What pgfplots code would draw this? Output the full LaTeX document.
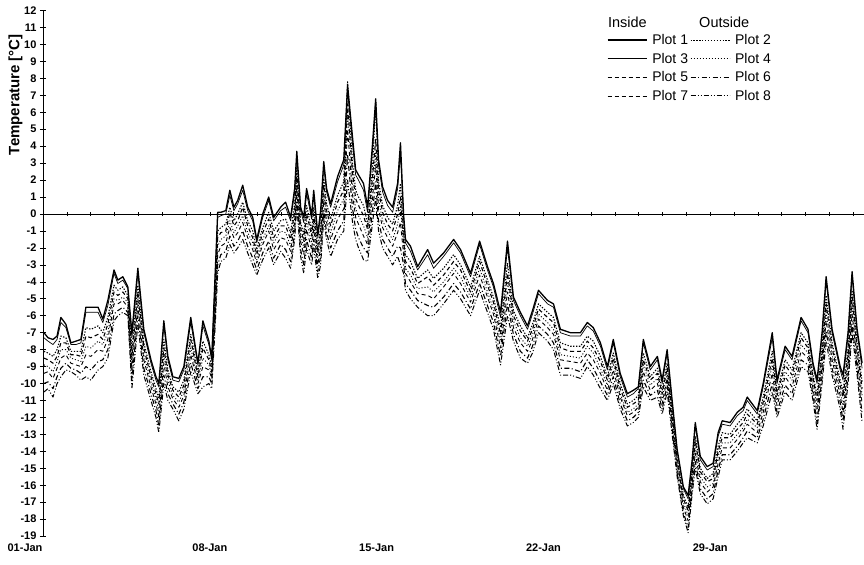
\documentclass[border=0pt]{standalone}
\usepackage{pgfplots}
\pgfplotsset{compat=1.18}
\usepackage{pgfplotstable}
\usepackage{fontspec}
\setmainfont{Liberation Sans}

% Hourly temperatures, January: d = days since 01-Jan 00:00
\pgfplotstableread{
d p1 p3 p2 p5 p4 p7 p6 p8
0.04 -7.0 -7.3 -8.1 -8.5 -8.9 -9.4 -10.0 -10.5
0.21 -7.3 -7.5 -8.2 -8.6 -9.0 -9.3 -9.9 -10.3
0.42 -7.4 -7.7 -8.4 -8.8 -9.3 -9.7 -10.3 -10.8
0.59 -7.2 -7.4 -8.0 -8.4 -8.7 -9.1 -9.6 -10.0
0.75 -6.1 -6.4 -7.2 -7.6 -8.0 -8.5 -9.1 -9.6
0.96 -6.5 -6.7 -7.3 -7.6 -8.0 -8.3 -8.8 -9.2
1.17 -7.6 -7.7 -8.1 -8.3 -8.5 -8.8 -9.1 -9.3
1.38 -7.5 -7.7 -8.1 -8.3 -8.6 -8.9 -9.2 -9.5
1.59 -7.4 -7.6 -8.1 -8.4 -8.7 -9.0 -9.4 -9.8
1.80 -5.5 -5.8 -6.7 -7.2 -7.8 -8.3 -9.0 -9.6
2.01 -5.5 -5.8 -6.8 -7.3 -7.9 -8.4 -9.2 -9.8
2.31 -5.5 -5.8 -6.6 -7.1 -7.5 -8.0 -8.7 -9.2
2.51 -6.2 -6.4 -7.0 -7.4 -7.7 -8.1 -8.6 -9.0
2.72 -5.1 -5.4 -6.1 -6.5 -7.0 -7.4 -8.0 -8.5
2.98 -3.3 -3.5 -4.2 -4.6 -5.0 -5.3 -5.9 -6.3
3.14 -3.9 -4.1 -4.5 -4.8 -5.1 -5.3 -5.7 -6.0
3.35 -3.7 -3.9 -4.3 -4.6 -4.9 -5.1 -5.5 -5.8
3.56 -4.3 -4.4 -4.8 -5.0 -5.2 -5.5 -5.8 -6.0
3.73 -7.0 -7.3 -8.0 -8.4 -8.8 -9.2 -9.8 -10.3
3.98 -3.2 -3.5 -4.2 -4.6 -5.0 -5.4 -6.0 -6.5
4.23 -6.8 -7.0 -7.6 -7.9 -8.3 -8.6 -9.1 -9.5
4.53 -8.6 -8.8 -9.3 -9.6 -9.9 -10.2 -10.6 -11.0
4.74 -9.6 -9.8 -10.3 -10.6 -10.9 -11.2 -11.6 -12.0
4.86 -10.0 -10.2 -10.9 -11.2 -11.6 -12.0 -12.5 -12.9
5.07 -6.3 -6.6 -7.4 -7.9 -8.3 -8.8 -9.5 -10.0
5.24 -8.4 -8.6 -9.2 -9.5 -9.8 -10.2 -10.6 -11.0
5.45 -9.6 -9.8 -10.2 -10.4 -10.7 -10.9 -11.2 -11.5
5.70 -9.7 -9.9 -10.5 -10.8 -11.1 -11.4 -11.8 -12.2
5.91 -9.0 -9.2 -9.8 -10.1 -10.4 -10.7 -11.1 -11.5
6.20 -6.1 -6.4 -7.1 -7.4 -7.9 -8.3 -8.8 -9.3
6.50 -8.8 -8.9 -9.3 -9.6 -9.8 -10.0 -10.3 -10.6
6.71 -6.3 -6.6 -7.5 -7.9 -8.5 -9.0 -9.6 -10.2
6.96 -7.5 -7.7 -8.3 -8.6 -8.9 -9.2 -9.6 -10.0
7.08 -8.5 -8.6 -9.0 -9.3 -9.5 -9.7 -10.0 -10.3
7.21 -4.0 -4.2 -4.9 -5.3 -5.7 -6.0 -6.6 -7.0
7.33 0.1 -0.2 -1.0 -1.4 -1.9 -2.4 -3.0 -3.5
7.46 0.1 -0.1 -0.8 -1.1 -1.5 -1.9 -2.4 -2.8
7.67 0.2 0.0 -0.6 -1.0 -1.3 -1.7 -2.2 -2.6
7.84 1.4 1.1 0.4 0.1 -0.4 -0.8 -1.3 -1.8
8.01 0.4 0.2 -0.4 -0.7 -1.1 -1.4 -1.9 -2.3
8.17 0.8 0.6 0.0 -0.4 -0.7 -1.1 -1.6 -2.0
8.38 1.7 1.4 0.7 0.4 -0.1 -0.5 -1.0 -1.5
8.59 0.4 0.2 -0.4 -0.7 -1.1 -1.4 -1.9 -2.3
8.80 -0.2 -0.4 -1.0 -1.4 -1.7 -2.1 -2.6 -3.0
8.97 -1.5 -1.7 -2.1 -2.4 -2.7 -2.9 -3.3 -3.6
9.22 0.0 -0.2 -0.8 -1.1 -1.5 -1.8 -2.3 -2.7
9.47 1.0 0.8 0.1 -0.3 -0.7 -1.0 -1.6 -2.0
9.68 -0.2 -0.4 -1.0 -1.4 -1.7 -2.1 -2.6 -3.0
9.97 0.4 0.2 -0.4 -0.7 -1.0 -1.4 -1.8 -2.2
10.18 0.7 0.4 -0.3 -0.7 -1.1 -1.5 -2.1 -2.6
10.39 -0.2 -0.4 -1.1 -1.5 -1.9 -2.2 -2.8 -3.2
10.56 1.5 1.3 0.6 0.2 -0.2 -0.5 -1.1 -1.5
10.65 3.7 3.4 2.7 2.4 1.9 1.5 1.0 0.5
10.81 0.4 0.2 -0.5 -0.8 -1.2 -1.6 -2.1 -2.5
10.94 -0.2 -0.5 -1.2 -1.6 -2.0 -2.4 -3.0 -3.5
11.06 1.5 1.2 0.5 0.0 -0.4 -0.9 -1.5 -2.0
11.15 0.9 0.6 -0.1 -0.5 -1.0 -1.4 -2.0 -2.5
11.27 -0.1 -0.3 -1.0 -1.3 -1.7 -2.1 -2.6 -3.0
11.36 1.4 1.1 0.4 0.0 -0.5 -0.9 -1.5 -2.0
11.53 -1.2 -1.4 -2.0 -2.3 -2.6 -3.0 -3.4 -3.8
11.65 0.2 -0.1 -0.8 -1.1 -1.6 -2.0 -2.5 -3.0
11.78 3.1 2.8 2.1 1.7 1.2 0.8 0.2 -0.3
11.90 1.5 1.3 0.6 0.2 -0.2 -0.5 -1.1 -1.5
12.07 0.6 0.4 -0.3 -0.7 -1.1 -1.5 -2.0 -2.5
12.36 2.2 1.9 1.1 0.7 0.2 -0.3 -1.0 -1.5
12.62 3.2 2.9 1.9 1.4 0.9 0.3 -0.4 -1.0
12.78 7.6 7.3 7.8 6.5 6.0 5.0 3.5 2.0
12.99 4.5 4.1 3.0 2.4 1.8 1.1 0.3 -0.5
13.12 2.6 2.3 1.4 0.9 0.3 -0.2 -0.9 -1.5
13.24 2.3 2.0 1.0 0.5 -0.1 -0.6 -1.4 -2.0
13.45 1.8 1.4 0.5 -0.1 -0.7 -1.3 -2.0 -2.7
13.62 0.4 0.1 -0.6 -0.9 -1.4 -1.8 -2.3 -2.8
13.83 4.2 3.8 2.8 2.2 1.6 1.0 0.2 -0.5
13.96 6.8 6.3 6.6 4.4 3.6 2.9 1.9 1.0
14.08 3.2 2.9 1.9 1.4 0.9 0.3 -0.4 -1.0
14.25 1.6 1.3 0.5 0.1 -0.4 -0.8 -1.5 -2.0
14.46 0.8 0.5 -0.2 -0.6 -1.0 -1.4 -2.0 -2.5
14.67 0.4 0.1 -0.6 -1.0 -1.5 -1.9 -2.5 -3.0
14.88 1.8 1.5 0.5 0.0 -0.6 -1.1 -1.9 -2.5
15.00 4.2 3.5 1.8 1.0 0.5 -0.5 -2.0 -3.0
15.13 0.0 -0.3 -1.1 -1.5 -1.9 -2.4 -3.0 -3.5
15.21 -1.5 -1.7 -2.4 -2.8 -3.2 -3.5 -4.1 -4.5
15.42 -1.9 -2.2 -2.8 -3.2 -3.6 -4.0 -4.5 -5.0
15.72 -3.1 -3.3 -3.8 -4.1 -4.4 -4.7 -5.1 -5.5
16.14 -2.1 -2.4 -3.3 -3.7 -4.3 -4.8 -5.4 -6.0
16.39 -2.9 -3.2 -3.8 -4.2 -4.6 -5.0 -5.5 -6.0
16.81 -2.3 -2.5 -3.2 -3.6 -4.0 -4.3 -4.9 -5.3
17.23 -1.5 -1.7 -2.4 -2.8 -3.2 -3.5 -4.1 -4.5
17.52 -2.1 -2.3 -3.0 -3.3 -3.7 -4.1 -4.6 -5.0
17.94 -3.5 -3.7 -4.3 -4.6 -4.9 -5.2 -5.6 -6.0
18.32 -1.6 -1.8 -2.5 -2.8 -3.2 -3.6 -4.1 -4.5
18.65 -3.1 -3.3 -3.9 -4.2 -4.6 -4.9 -5.4 -5.8
18.90 -4.1 -4.3 -4.9 -5.2 -5.6 -5.9 -6.4 -6.8
19.20 -5.8 -6.1 -6.7 -7.1 -7.5 -7.9 -8.4 -8.9
19.49 -1.6 -2.0 -2.9 -3.5 -4.0 -4.6 -5.3 -6.0
19.74 -4.9 -5.1 -5.7 -6.0 -6.3 -6.7 -7.1 -7.5
20.03 -5.8 -6.0 -6.6 -6.9 -7.3 -7.6 -8.1 -8.5
20.33 -6.6 -6.8 -7.3 -7.5 -7.8 -8.1 -8.5 -8.8
20.54 -5.7 -5.9 -6.5 -6.8 -7.1 -7.4 -7.8 -8.2
20.79 -4.5 -4.7 -5.3 -5.6 -5.9 -6.2 -6.6 -7.0
21.17 -5.1 -5.3 -5.8 -6.1 -6.4 -6.7 -7.1 -7.5
21.42 -5.3 -5.5 -6.1 -6.4 -6.8 -7.1 -7.6 -8.0
21.71 -6.8 -7.0 -7.6 -7.9 -8.3 -8.6 -9.1 -9.5
22.13 -7.0 -7.2 -7.8 -8.1 -8.4 -8.7 -9.1 -9.5
22.55 -7.0 -7.2 -7.8 -8.1 -8.5 -8.8 -9.3 -9.7
22.84 -6.4 -6.6 -7.2 -7.5 -7.8 -8.2 -8.6 -9.0
23.09 -6.7 -6.9 -7.5 -7.9 -8.2 -8.6 -9.1 -9.5
23.39 -7.6 -7.8 -8.4 -8.7 -9.1 -9.4 -9.9 -10.3
23.68 -9.0 -9.2 -9.6 -9.8 -10.1 -10.4 -10.7 -11.0
23.93 -7.4 -7.6 -8.2 -8.5 -8.8 -9.2 -9.6 -10.0
24.22 -9.4 -9.6 -10.0 -10.3 -10.6 -10.8 -11.2 -11.5
24.52 -10.6 -10.8 -11.2 -11.4 -11.7 -11.9 -12.2 -12.5
24.77 -10.4 -10.6 -11.0 -11.2 -11.5 -11.7 -12.0 -12.3
24.98 -10.2 -10.3 -10.7 -11.0 -11.2 -11.4 -11.7 -12.0
25.19 -7.4 -7.6 -8.2 -8.6 -8.9 -9.3 -9.8 -10.2
25.48 -9.0 -9.2 -9.6 -9.8 -10.1 -10.4 -10.7 -11.0
25.78 -8.4 -8.6 -9.1 -9.4 -9.7 -10.0 -10.4 -10.8
25.98 -9.8 -10.0 -10.4 -10.6 -10.9 -11.2 -11.5 -11.8
26.19 -8.0 -8.2 -8.8 -9.1 -9.4 -9.7 -10.1 -10.5
26.40 -11.0 -11.2 -11.6 -11.8 -12.1 -12.4 -12.7 -13.0
26.61 -13.9 -14.0 -14.4 -14.6 -14.8 -15.0 -15.3 -15.5
26.87 -16.1 -16.2 -16.6 -16.8 -17.0 -17.3 -17.6 -17.8
27.07 -16.6 -16.8 -17.3 -17.5 -17.8 -18.1 -18.5 -18.8
27.24 -14.5 -14.7 -15.1 -15.3 -15.6 -15.9 -16.2 -16.5
27.37 -12.3 -12.5 -13.1 -13.4 -13.8 -14.1 -14.6 -15.0
27.58 -14.3 -14.5 -15.0 -15.2 -15.5 -15.8 -16.2 -16.5
27.87 -14.9 -15.1 -15.6 -15.8 -16.1 -16.4 -16.8 -17.1
28.12 -14.7 -14.9 -15.3 -15.6 -15.9 -16.1 -16.5 -16.8
28.33 -12.9 -13.1 -13.7 -14.0 -14.3 -14.7 -15.1 -15.5
28.50 -12.2 -12.4 -12.9 -13.2 -13.5 -13.8 -14.2 -14.5
28.83 -12.3 -12.5 -13.0 -13.2 -13.5 -13.8 -14.2 -14.5
29.13 -11.7 -11.9 -12.4 -12.7 -13.0 -13.3 -13.7 -14.0
29.38 -11.4 -11.6 -12.0 -12.3 -12.6 -12.8 -13.2 -13.5
29.55 -10.8 -11.0 -11.5 -11.8 -12.1 -12.4 -12.8 -13.2
29.97 -11.6 -11.8 -12.2 -12.4 -12.6 -12.9 -13.2 -13.5
30.22 -10.0 -10.2 -10.8 -11.1 -11.4 -11.7 -12.1 -12.5
30.60 -7.0 -7.3 -8.1 -8.5 -8.9 -9.4 -10.0 -10.5
30.80 -9.8 -10.0 -10.5 -10.7 -11.0 -11.3 -11.7 -12.0
31.14 -7.8 -8.0 -8.6 -8.9 -9.3 -9.6 -10.1 -10.5
31.43 -8.4 -8.6 -9.2 -9.5 -9.8 -10.2 -10.6 -11.0
31.81 -6.1 -6.3 -7.0 -7.3 -7.7 -8.1 -8.6 -9.0
32.10 -6.8 -7.0 -7.6 -7.9 -8.2 -8.5 -8.9 -9.3
32.31 -8.8 -9.0 -9.5 -9.7 -10.0 -10.3 -10.7 -11.0
32.48 -9.8 -10.0 -10.7 -11.0 -11.4 -11.8 -12.3 -12.7
32.69 -7.0 -7.2 -7.9 -8.3 -8.7 -9.0 -9.6 -10.0
32.86 -3.7 -4.0 -4.8 -5.3 -5.8 -6.3 -6.9 -7.5
33.11 -6.8 -7.0 -7.6 -7.9 -8.3 -8.6 -9.1 -9.5
33.45 -9.0 -9.2 -9.8 -10.1 -10.4 -10.7 -11.1 -11.5
33.57 -9.5 -9.8 -10.5 -10.8 -11.3 -11.7 -12.2 -12.7
33.78 -7.0 -7.2 -7.9 -8.3 -8.7 -9.0 -9.6 -10.0
33.95 -3.4 -3.7 -4.5 -4.9 -5.4 -5.9 -6.5 -7.0
34.16 -6.8 -7.0 -7.6 -7.9 -8.3 -8.6 -9.1 -9.5
34.37 -8.8 -9.1 -9.9 -10.3 -10.7 -11.2 -11.8 -12.3
}\temps

\begin{document}
\begin{tikzpicture}
% zero line with a tick for every day
\begin{axis}[
  scale only axis, width=821pt, height=525.5pt,
  xmin=0, xmax=34.45, ymin=-19, ymax=12,
  axis x line=middle, axis y line=none,
  x axis line style={-, black, line width=0.8pt},
  every inner x axis line/.append style={-},
  xtick={1,2,...,34}, xticklabels={},
  tick align=center, major tick length=4pt,
  x tick style={black, line width=0.6pt},
  ytick=\empty,
]
\end{axis}
\begin{axis}[
  scale only axis, width=821pt, height=525.5pt,
  xmin=0, xmax=34.45, ymin=-19, ymax=12,
  axis lines=left, axis line style={-, black, line width=0.8pt},
  x axis line style={draw=none},
  xtick={7,14,21,28}, xticklabels={08-Jan,15-Jan,22-Jan,29-Jan},
  extra x ticks={0}, extra x tick labels={01-Jan},
  extra x tick style={xticklabel style={anchor=north east, xshift=3pt}, tick style={draw=none}},
  x tick style={draw=none},
  ytick={-19,-18,...,12},
  tick align=center, major tick length=6pt,
  y tick style={black, line width=0.6pt},
  tick label style={font=\bfseries\fontsize{11}{13}\selectfont},
  xticklabel style={yshift=-1pt},
  /pgf/number format/assume math mode=true,
  ylabel={Temperature [°C]},
  every axis y label/.style={at={(rel axis cs:-0.0335,0.84)}, rotate=90, anchor=center,
    font=\bfseries\fontsize{15}{17}\selectfont},
  legend columns=2,
  legend cell align=left,
  legend style={draw=none, fill=none, at={(0.683,0.963)}, anchor=north west,
    font=\fontsize{14}{16}\selectfont, row sep=3pt,
    /tikz/every odd column/.append style={column sep=3pt}},
  legend image code/.code={\draw[#1] (0pt,0pt) -- (39pt,0pt);},
  every axis plot/.append style={black, line join=round},
]
\addplot[line width=1.3pt] table[x=d, y=p1] {\temps};
\addlegendentry{Plot 1}
\addplot[line width=1.1pt, dash pattern=on 1.3pt off 1.6pt] table[x=d, y=p2] {\temps};
\addlegendentry{Plot 2}
\addplot[line width=0.7pt] table[x=d, y=p3] {\temps};
\addlegendentry{Plot 3}
\addplot[line width=0.9pt, dash pattern=on 1pt off 2pt] table[x=d, y=p4] {\temps};
\addlegendentry{Plot 4}
\addplot[line width=1.1pt, dash pattern=on 4pt off 3pt] table[x=d, y=p5] {\temps};
\addlegendentry{Plot 5}
\addplot[line width=1.1pt, dash pattern=on 5pt off 2.5pt on 1pt off 2.5pt] table[x=d, y=p6] {\temps};
\addlegendentry{Plot 6}
\addplot[line width=0.9pt, dash pattern=on 4pt off 3pt] table[x=d, y=p7] {\temps};
\addlegendentry{Plot 7}
\addplot[line width=1pt, dash pattern=on 5pt off 2pt on 1pt off 2pt on 1pt off 2pt] table[x=d, y=p8] {\temps};
\addlegendentry{Plot 8}
\node[anchor=west, font=\fontsize{14.5}{16}\selectfont] at (rel axis cs:0.684,0.978) {Inside};
\node[anchor=west, font=\fontsize{14.5}{16}\selectfont] at (rel axis cs:0.795,0.978) {Outside};
\end{axis}
\pgfresetboundingbox
\path[use as bounding box] (-43pt,-28pt) rectangle (821pt,536.1pt);
\end{tikzpicture}
\end{document}
